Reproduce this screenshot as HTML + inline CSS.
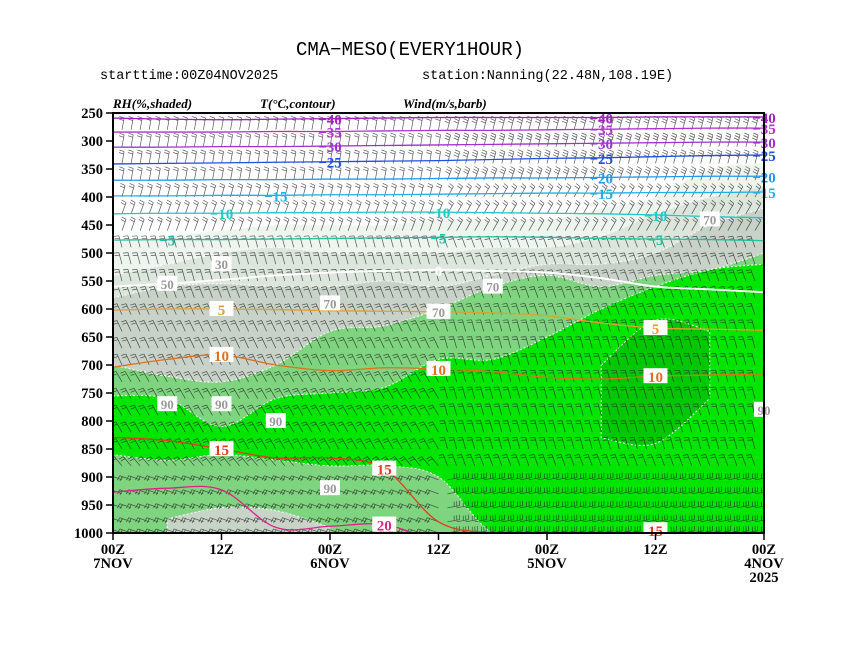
<!DOCTYPE html>
<html><head><meta charset="utf-8"><style>
html,body{margin:0;padding:0;background:#fff;}
svg{display:block;font-family:"Liberation Serif",serif;}
</style></head><body>
<svg id="chart" width="841" height="650" viewBox="0 0 841 650" xmlns="http://www.w3.org/2000/svg">
<defs><clipPath id="plotclip"><rect x="113" y="113" width="651" height="420"/></clipPath></defs>
<text x="410" y="55" text-anchor="middle" font-family="Liberation Mono, monospace" font-size="19">CMA−MESO(EVERY1HOUR)</text>
<text x="100" y="79" font-family="Liberation Mono, monospace" font-size="13.5">starttime:00Z04NOV2025</text>
<text x="422" y="79" font-family="Liberation Mono, monospace" font-size="13.5">station:Nanning(22.48N,108.19E)</text>
<text x="113" y="108" font-size="13" font-weight="bold" font-style="italic">RH(%,shaded)</text>
<text x="260" y="108" font-size="13" font-weight="bold" font-style="italic">T(°C,contour)</text>
<text x="403" y="108" font-size="13" font-weight="bold" font-style="italic">Wind(m/s,barb)</text>
<rect x="113" y="113" width="651" height="420" fill="#fff"/>
<g id="rh" clip-path="url(#plotclip)"></g>
<g id="barbs" clip-path="url(#plotclip)"></g>
<g id="contours" clip-path="url(#plotclip)"></g>
<g id="labels"></g>
<rect x="113" y="113" width="651" height="420" fill="none" stroke="#000" stroke-width="2"/>
<g id="axes"></g>
</svg>
<script>
const hours=[72,66,60,54,48,42,36,30,24,18,12,6,0];
// RH regions: top pressure (hPa) per time, bottom pressure (null = 1000)
const rh10Top=[480,470,460,450,450,450,440,440,440,420,400,350,340];
const rh30Top=[540,520,500,490,500,500,500,490,490,470,430,400,380];
const rh50Top=[580,560,555,560,560,550,560,540,520,520,500,450,420];
const rh70Top=[700,720,730,700,640,630,600,560,540,560,540,530,500];
const rh80Top=[755,760,810,760,750,740,690,690,650,600,560,530,520];
const rh80Bot=[860,870,860,870,880,880,900,1000,1000,1000,1000,1000,1000];
const rh90Top=[null,null,null,null,null,null,null,null,null,700,620,640,null];
const rh90Bot=[null,null,null,null,null,null,null,null,null,830,840,760,null];
const rhLowTop=[null,975,955,960,990,null,null,null,null,null,null,null,null];
// temperature contours: pressure of isotherm per time
const tLevels=[-40,-35,-30,-25,-20,-15,-10,-5,0,5,10,15,20];
const tM40=[259,261,262,261,260,259,258,258,258,258,257,257,257];
const tM35=[284,284,284,283,283,282,281,281,280,279,278,277,277];
const tM30=[311,311,310,310,309,308,307,306,305,304,303,302,302];
const tM25=[341,340,339,338,337,336,335,333,331,330,328,326,325];
const tM20=[370,370,369,369,368,368,367,366,366,365,364,363,363];
const tM15=[398,398,397,397,396,396,395,394,393,393,392,392,391];
const tM10=[430,429,429,428,428,427,427,428,429,430,432,435,437];
const tM5=[477,476,476,475,474,473,472,471,472,474,475,476,478];
const t0=[560,555,548,540,535,532,530,532,535,545,560,565,570];
const t5=[602,600,600,601,603,604,605,607,612,625,634,636,638];
const t10=[704,690,682,700,710,705,707,712,722,725,720,718,716];
const t15=[829,835,850,866,866,885,980,1000,1004,1003,998,1002,1005];
const t20=[927,920,923,990,988,985,1015,1030,1030,1030,1030,1030,1030];
// wind barbs
const barbLevels=[280,310,340,370,400,430,460,490,520,550,580,610,640,670,700,730,760,790,820,850,880,905,930,955,980,1000];
const angleLeft=[10,10,10,10,15,20,20,-15,-15,-15,-20,-25,-25,-25,-25,-30,-30,-30,-30,-30,-40,-70,-70,-70,-70,-70];
const angleRight=[15,15,15,20,30,30,30,-20,-20,-20,-20,-20,-15,-15,-15,-15,-15,-15,-15,-15,-20,80,80,80,80,80];
const ticksLeft=[2,2,2,2,2,2,2,2,2,2,2,2,2,2,2,2,2,2,2,2,2,2,2,2,2,2];
const ticksRight=[3,3,3,3,2,2,2,2,2,2,2,2,2,2,2,2,2,2,2,2,2,3,3,3,3,3];

const NS="http://www.w3.org/2000/svg";
function X(h){return 764-h*651/72;}
function Y(p){return 113+(p-250)*420/750;}
function mk(tag,attrs,parent){const e=document.createElementNS(NS,tag);for(const k in attrs)e.setAttribute(k,attrs[k]);parent.appendChild(e);return e;}
function smooth(pts){let d="M"+pts[0][0]+","+pts[0][1];for(let i=0;i<pts.length-1;i++){const p0=pts[i-1]||pts[i],p1=pts[i],p2=pts[i+1],p3=pts[i+2]||p2;d+=" C"+(p1[0]+(p2[0]-p0[0])/6)+","+(p1[1]+(p2[1]-p0[1])/6)+" "+(p2[0]-(p3[0]-p1[0])/6)+","+(p2[1]-(p3[1]-p1[1])/6)+" "+p2[0]+","+p2[1];}return d;}

const rhG=document.getElementById('rh');
function region(top,bot,fill,name){
  let seg=[];const segs=[];
  for(let i=0;i<hours.length;i++){if(top[i]==null){if(seg.length)segs.push(seg);seg=[];}else seg.push(i);}
  if(seg.length)segs.push(seg);
  segs.forEach(s=>{
    const tp=s.map(i=>[X(hours[i]),Y(top[i])]);
    const bp=s.slice().reverse().map(i=>[X(hours[i]),Y(bot&&bot[i]!=null?bot[i]:1000)]);
    if(s.length==1){tp.push([tp[0][0]+25,tp[0][1]]);bp.unshift([bp[0][0]+25,bp[0][1]]);tp[0][0]-=25;bp[bp.length-1][0]-=25;}
    const d=smooth(tp)+" L"+bp[0][0]+","+bp[0][1]+" "+smooth(bp).slice(1).replace(/^[^C]*/,'')+" Z";
    const el=mk('path',{d:d,fill:fill,stroke:'#fff','stroke-width':1,'stroke-dasharray':'2,2'},rhG);
    
    
  });
}
region(rh10Top,null,'#eef4ee','rh-10-region');
region(rh30Top,null,'#dce6dc','rh-30-region');
region(rh50Top,null,'#c8d2c8','rh-50-region');
region(rh70Top,null,'#7fd47f','rh-70-region');
region(rh80Top,rh80Bot,'#00e600','rh-80-region');
region(rh90Top,rh90Bot,'#00c800','rh-90-region');
region(rhLowTop,null,'#c8d4c8','rh-low-patch');

// barbs
const bG=document.getElementById('barbs');
let bd="";
for(let h=71;h>=1;h--){
  const right=h<36;
  for(let li=0;li<barbLevels.length;li++){
    const a=(right?angleRight[li]:angleLeft[li])*Math.PI/180;
    const n=right?ticksRight[li]:ticksLeft[li];
    const x0=X(h),y0=Y(barbLevels[li]);
    const L=12,dx=Math.sin(a),dy=-Math.cos(a);
    const tx=x0+dx*L,ty=y0+dy*L;
    bd+="M"+x0.toFixed(1)+","+y0.toFixed(1)+"L"+tx.toFixed(1)+","+ty.toFixed(1);
    const pa=a-Math.PI*0.45;
    for(let k=0;k<n;k++){
      const sx=tx-dx*2.6*k,sy=ty-dy*2.6*k;
      bd+="M"+sx.toFixed(1)+","+sy.toFixed(1)+"l"+(Math.sin(pa)*5).toFixed(1)+","+(-Math.cos(pa)*5).toFixed(1);
    }
  }
}
const bp=mk('path',{d:bd,fill:'none',stroke:'#222','stroke-width':0.7,'stroke-opacity':0.75},bG);



// contours
const cG=document.getElementById('contours'),lG=document.getElementById('labels');
const tSeries=[tM40,tM35,tM30,tM25,tM20,tM15,tM10,tM5,t0,t5,t10,t15,t20];
const tColors=['#a020c0','#b030d0','#a030d0','#2050e0','#1e9af0','#1eb0e6','#20c8c8','#20c0a0','#ffffff','#e0a030','#e07020','#e03c20','#e0208a'];
const labelIdx=[[4,9,12],[4,9,12],[4,9,12],[4,9,12],[9,12],[3,9,12],[2,6,10],[1,6,10],[6],[2,6,10],[2,6,10],[2,5,10],[5]];
tSeries.forEach((s,k)=>{
  const pts=s.map((p,i)=>[X(hours[i]),Y(p)]);
  const el=mk('path',{d:smooth(pts),fill:'none',stroke:tColors[k],'stroke-width':k==8?2:1.3},cG);
  
  
  labelIdx[k].forEach(i=>{
    const x=X(hours[i]),y=Y(Math.min(s[i],995));
    const txt=String(tLevels[k]).replace('-','−');
    const r=mk('rect',{x:x-12,y:y-8,width:24,height:15,fill:k>=9?'#fff':'none'},lG);
    
    
    const t=mk('text',{x:x,y:y+6,'text-anchor':'middle','font-size':15,'font-weight':'bold',fill:k==8?'#fff':tColors[k]},lG);
    t.textContent=txt;
    
    
  });
});
// RH labels
const rhLabVals=['30','50','70','70','90','90','90','90','70','90','70'];
const rhLabH=[60,66,48,30,66,60,54,48,36,0,6];
const rhLabP=[520,555,590,560,770,770,800,920,605,780,440];
rhLabVals.forEach((v,i)=>{
  const x=X(rhLabH[i]),y=Y(rhLabP[i]);
  const r=mk('rect',{x:x-10,y:y-8,width:20,height:15,fill:'#fff'},lG);
  
  
  const t=mk('text',{x:x,y:y+5,'text-anchor':'middle','font-size':13,'font-weight':'bold',fill:'#999'},lG);
  t.textContent=v;
  
  
});

// axes
const aG=document.getElementById('axes');
const yTicks=[250,300,350,400,450,500,550,600,650,700,750,800,850,900,950,1000];
yTicks.forEach(p=>{
  const t=mk('text',{x:103,y:Y(p)+5,'text-anchor':'end','font-size':14.5,'font-weight':'bold'},aG);
  t.textContent=p;
  
  
  const l=mk('line',{x1:106,x2:113,y1:Y(p),y2:Y(p),stroke:'#000','stroke-width':1.5},aG);
  
  
});
const xTickH=[72,60,48,36,24,12,0];
const xTickL=[['00Z','7NOV'],['12Z'],['00Z','6NOV'],['12Z'],['00Z','5NOV'],['12Z'],['00Z','4NOV','2025']];
xTickH.forEach((h,i)=>{
  const x=X(h);
  const l=mk('line',{x1:x,x2:x,y1:533,y2:540,stroke:'#000','stroke-width':1.5},aG);
  
  
  xTickL[i].forEach((s,j)=>{
    const t=mk('text',{x:x,y:554+j*14,'text-anchor':'middle','font-size':14.5,'font-weight':'bold'},aG);
    t.textContent=s;
    
    
  });
});
</script>
</body></html>
